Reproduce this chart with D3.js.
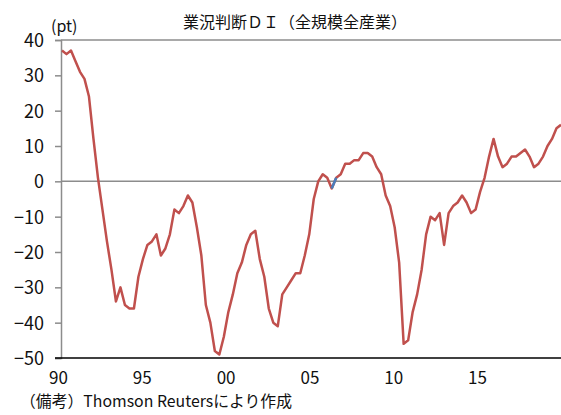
<!DOCTYPE html>
<html lang="ja">
<head>
<meta charset="UTF-8">
<title>業況判断DI</title>
<script src="https://cdn.jsdelivr.net/npm/d3@7"></script>
<style>
  body { margin: 0; background: #fff; }
  text { font-family: "Noto Sans CJK JP", sans-serif; fill: #111; }
</style>
</head>
<body>
<script>
// 四半期データ 1990Q1〜2017Q4
var diValues = [
    37, 36, 37, 34, 31, 29, 24, 12, 1, -8, -17, -25,
    -34, -30, -35, -36, -36, -27, -22, -18, -17, -15, -21, -19,
    -15, -8, -9, -7, -4, -6, -13, -21, -35, -40, -48, -49,
    -44, -37, -32, -26, -23, -18, -15, -14, -22, -27, -36, -40,
    -41, -32, -30, -28, -26, -26, -21, -15, -5, 0, 2, 1,
    -2, 1, 2, 5, 5, 6, 6, 8, 8, 7, 4, 2,
    -4, -7, -13, -23, -46, -45, -37, -32, -25, -15, -10, -11,
    -9, -18, -9, -7, -6, -4, -6, -9, -8, -3, 1, 7,
    12, 7, 4, 5, 7, 7, 8, 9, 7, 4, 5, 7,
    10, 12, 15, 16
];
// 青い区間（系列のつなぎ目）
var blueIdx = [60, 61];

var yTicks = [40, 30, 20, 10, 0, -10, -20, -30, -40, -50];
var xLabels = ["90", "95", "00", "05", "10", "15"];

function drawChart() {
    var w = 561, h = 415;
    var plotL = 61, plotR = 561, plotT = 40, plotB = 358;

    var svg = d3.select("body").append("svg")
        .attr("width", w)
        .attr("height", h);

    var xScale = d3.scaleLinear()
        .domain([0, diValues.length - 1])
        .range([62, plotR]);
    var yScale = d3.scaleLinear()
        .domain([-50, 40])
        .range([plotB, plotT]);
    var labelScale = d3.scalePoint()
        .domain(xLabels)
        .range([58.5, 477.5]);

    // 上の枠線
    svg.append("line")
        .attr("x1", plotL).attr("x2", plotR)
        .attr("y1", plotT).attr("y2", plotT)
        .attr("stroke", "#8c8c8c").attr("stroke-width", 1.5);

    // 0 の線
    svg.append("line")
        .attr("x1", plotL).attr("x2", plotR)
        .attr("y1", yScale(0)).attr("y2", yScale(0))
        .attr("stroke", "#8c8c8c").attr("stroke-width", 1.5);

    // y軸
    var yAxis = d3.axisLeft(yScale)
        .tickValues(yTicks)
        .tickSize(6)
        .tickPadding(11)
        .tickFormat(function (d) { return d < 0 ? "\u2212" + Math.abs(d) : d; });
    var gy = svg.append("g")
        .attr("transform", "translate(" + plotL + ",0)")
        .call(yAxis);
    gy.select(".domain").attr("stroke", "#8c8c8c").attr("stroke-width", 1.5);
    gy.selectAll(".tick line").attr("stroke", "#8c8c8c").attr("stroke-width", 1.5);
    gy.selectAll(".tick text")
        .attr("font-size", "18px")
        .attr("font-family", "'Noto Sans CJK JP', sans-serif")
        .attr("fill", "#111")
        .attr("dy", "0.36em");

    // x軸（下線）
    svg.append("line")
        .attr("x1", 55).attr("x2", plotR)
        .attr("y1", plotB).attr("y2", plotB)
        .attr("stroke", "#000").attr("stroke-width", 1.5);

    svg.selectAll("text.xlab")
        .data(xLabels)
        .enter()
        .append("text")
        .attr("class", "xlab")
        .attr("x", function (d) { return labelScale(d); })
        .attr("y", 384)
        .attr("text-anchor", "middle")
        .attr("font-size", "17px")
        .text(function (d) { return d; });

    // 折れ線
    var line = d3.line()
        .x(function (d, i) { return xScale(i); })
        .y(function (d) { return yScale(d); });

    svg.append("path")
        .datum(diValues)
        .attr("d", line)
        .attr("fill", "none")
        .attr("stroke", "#c0504d")
        .attr("stroke-width", 2.5)
        .attr("stroke-linejoin", "round");

    var blueLine = d3.line()
        .x(function (d) { return xScale(d); })
        .y(function (d) { return yScale(diValues[d]); });
    svg.append("path")
        .datum(blueIdx)
        .attr("d", blueLine)
        .attr("fill", "none")
        .attr("stroke", "#4a7ebb")
        .attr("stroke-width", 2.5);

    // 文字
    svg.append("text")
        .attr("x", 295).attr("y", 28)
        .attr("text-anchor", "middle")
        .attr("font-size", "16px")
        .text("業況判断ＤＩ（全規模全産業）");

    svg.append("text")
        .attr("x", 51).attr("y", 32)
        .attr("font-size", "16px")
        .text("(pt)");

    svg.append("text")
        .attr("x", 20).attr("y", 407)
        .attr("font-size", "16px")
        .attr("textLength", 272)
        .attr("lengthAdjust", "spacingAndGlyphs")
        .text("（備考）Thomson Reutersにより作成");
}
drawChart();
</script>
</body>
</html>
